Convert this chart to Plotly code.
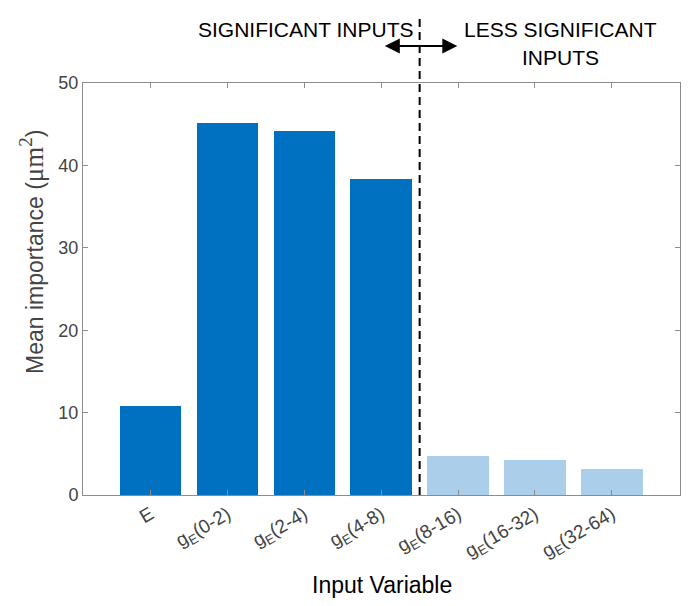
import plotly.graph_objects as go

categories = ["E", "g<sub>E</sub>(0-2)", "g<sub>E</sub>(2-4)", "g<sub>E</sub>(4-8)",
              "g<sub>E</sub>(8-16)", "g<sub>E</sub>(16-32)", "g<sub>E</sub>(32-64)"]
values = [10.8, 45.2, 44.2, 38.3, 4.7, 4.2, 3.2]
significant = [True, True, True, True, False, False, False]
ytick_vals = [0, 10, 20, 30, 40, 50]

dark = "#0070C0"
light = "#ABCFEA"
colors = [dark if s else light for s in significant]

fig = go.Figure()
fig.add_trace(go.Bar(x=list(range(len(categories))), y=values, marker_color=colors,
                     marker_line_width=0, width=0.8))

axis_gray = "#8c8c8c"
tick_font = dict(family="Liberation Sans, Arial", size=18, color="#444444")
narrow = "Liberation Sans, Arial"

fig.update_layout(
    width=692, height=606,
    margin=dict(l=83, r=12, t=83, b=111),
    plot_bgcolor="white", paper_bgcolor="white",
    showlegend=False,
    bargap=0,
    xaxis=dict(
        tickmode="array", tickvals=list(range(len(categories))), ticktext=categories,
        range=[-0.878, 6.886], tickangle=-30, tickfont=dict(family="Liberation Sans, Arial", size=19, color="#444444"),
        showline=True, linecolor=axis_gray, linewidth=1, mirror="ticks",
        ticks="inside", ticklen=5, tickcolor=axis_gray, showgrid=False, zeroline=False,
    ),
    yaxis=dict(
        range=[0, 50], tickvals=ytick_vals, tickfont=tick_font,
        showline=True, linecolor=axis_gray, linewidth=1, mirror="ticks",
        ticks="inside", ticklen=5, tickcolor=axis_gray, showgrid=False, zeroline=False,
    ),
)

# dashed divider
fig.add_shape(type="line", xref="x", yref="paper", x0=3.5, x1=3.5, y0=0, y1=1.165,
              line=dict(color="black", width=2, dash="8px,5px"))

# double-headed arrow
fig.add_annotation(xref="x", yref="paper", x=3.99, y=1.090, ax=-74, ay=0,
                   text="", showarrow=True, arrowhead=2, arrowside="end+start",
                   arrowsize=1.5, arrowwidth=2, arrowcolor="black")

fig.add_annotation(xref="paper", yref="paper", x=0.556, y=1.129, xanchor="right", yanchor="middle",
                   text="SIGNIFICANT INPUTS", showarrow=False,
                   font=dict(family=narrow, size=21, color="black"))
fig.add_annotation(xref="paper", yref="paper", x=0.799, y=1.129, xanchor="center", yanchor="middle",
                   text="LESS SIGNIFICANT", showarrow=False,
                   font=dict(family=narrow, size=21, color="black"))
fig.add_annotation(xref="paper", yref="paper", x=0.799, y=1.063, xanchor="center", yanchor="middle",
                   text="INPUTS", showarrow=False,
                   font=dict(family=narrow, size=21, color="black"))

# axis titles
fig.add_annotation(xref="paper", yref="paper", x=0.5, y=-0.218, xanchor="center", yanchor="middle",
                   text="Input Variable", showarrow=False,
                   font=dict(family=narrow, size=23, color="black"))
fig.add_annotation(xref="paper", yref="paper", x=-0.0854, y=0.59, xanchor="center", yanchor="middle",
                   textangle=-90,
                   text="Mean importance (<span style=\"font-family:Liberation Serif;font-size:27px\">μm<sup>2</sup></span>)",
                   showarrow=False,
                   font=dict(family="Liberation Sans, Arial", size=23, color="#444444"))

fig.write_html("out.html")
